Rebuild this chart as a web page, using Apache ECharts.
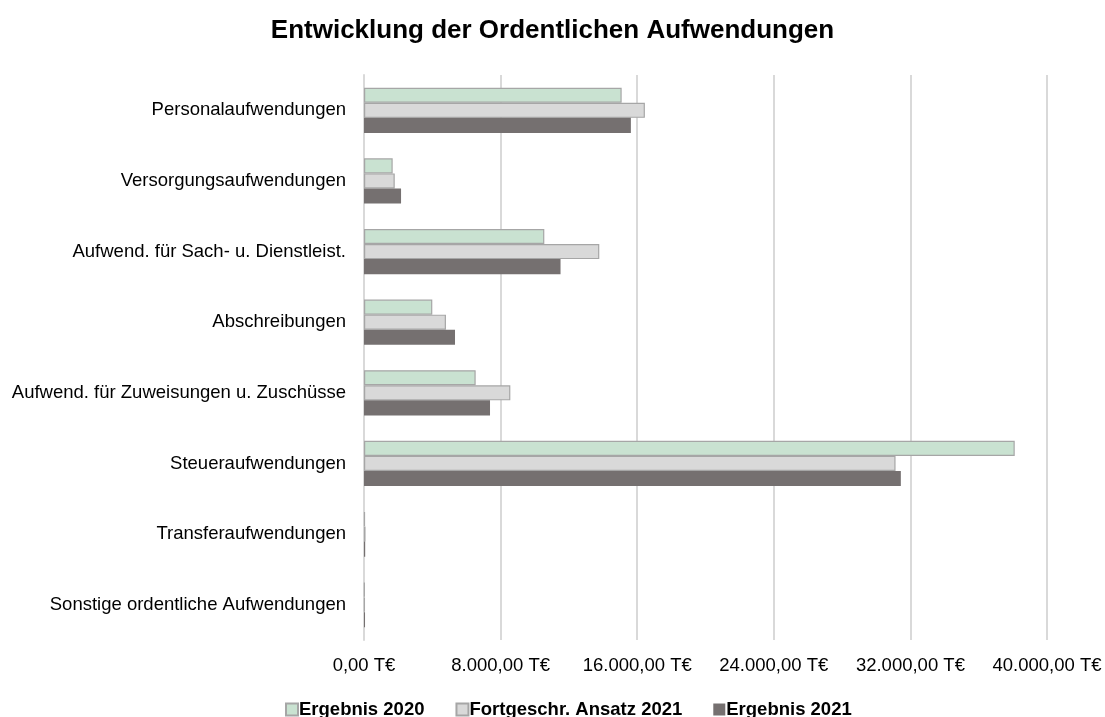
<!DOCTYPE html>
<html>
<head>
<meta charset="utf-8">
<script src="https://cdn.jsdelivr.net/npm/echarts@6/dist/echarts.min.js"></script>
<style>
  html, body { margin: 0; padding: 0; background: #fff; }
  #chart { width: 1105px; height: 717px; }
</style>
</head>
<body>
<div id="chart"></div>
<script>
const categories = [
  'Personalaufwendungen',
  'Versorgungsaufwendungen',
  'Aufwend. für Sach- u. Dienstleist.',
  'Abschreibungen',
  'Aufwend. für Zuweisungen u. Zuschüsse',
  'Steueraufwendungen',
  'Transferaufwendungen',
  'Sonstige ordentliche Aufwendungen'
];
const ergebnis2020 = [15090, 1680, 10560, 4000, 6540, 38110, 60, 40];
const ansatz2021 = [16450, 1800, 13780, 4800, 8570, 31130, 90, 50];
const ergebnis2021 = [15630, 2170, 11510, 5330, 7380, 31440, 70, 60];

const fmt = (v) => {
  const parts = v.toFixed(2).split('.');
  const int = parts[0].replace(/\B(?=(\d{3})+(?!\d))/g, '.');
  return int + ',' + parts[1] + ' T€';
};

const font = '"Liberation Sans", Arial, sans-serif';

const barSeries = (name, data, fill, border) => ({
  name: name,
  type: 'bar',
  data: data,
  barGap: '0%',
  barCategoryGap: '36%',
  itemStyle: {
    color: fill,
    borderColor: border,
    borderWidth: border ? 1.2 : 0
  }
});

const myChart = echarts.init(document.getElementById('chart'));
const option = {
  animation: false,
  title: {
    text: 'Entwicklung der Ordentlichen Aufwendungen',
    left: 'center',
    top: 13,
    textStyle: { fontFamily: font, fontSize: 26, fontWeight: 'bold', color: '#000' }
  },
  legend: {
    top: 695,
    left: 280,
    itemWidth: 12,
    itemHeight: 12,
    itemGap: 31,
    icon: 'rect',
    textStyle: { fontFamily: font, fontSize: 18.5, fontWeight: 'bold', color: '#000', padding: [0, 0, 0, -4] },
    data: ['Ergebnis 2020', 'Fortgeschr. Ansatz 2021', 'Ergebnis 2021']
  },
  grid: { left: 364, right: 58, top: 75, bottom: 77 },
  xAxis: {
    type: 'value',
    min: 0,
    max: 40000,
    interval: 8000,
    axisLine: { show: false },
    axisTick: { show: false },
    splitLine: { lineStyle: { color: '#d9d9d9', width: 2 } },
    axisLabel: { formatter: fmt, fontFamily: font, fontSize: 18.5, color: '#000', margin: 16 }
  },
  yAxis: {
    type: 'category',
    inverse: true,
    data: categories,
    axisLine: { show: true, lineStyle: { color: '#d9d9d9', width: 2 } },
    axisTick: { show: false },
    axisLabel: { fontFamily: font, fontSize: 18.5, color: '#000', margin: 18 }
  },
  series: [
    barSeries('Ergebnis 2020', ergebnis2020, '#c9e2d1', '#a6a6a6'),
    barSeries('Fortgeschr. Ansatz 2021', ansatz2021, '#d9d9d9', '#a6a6a6'),
    barSeries('Ergebnis 2021', ergebnis2021, '#757070', null)
  ]
};
option && myChart.setOption(option);
</script>
</body>
</html>
